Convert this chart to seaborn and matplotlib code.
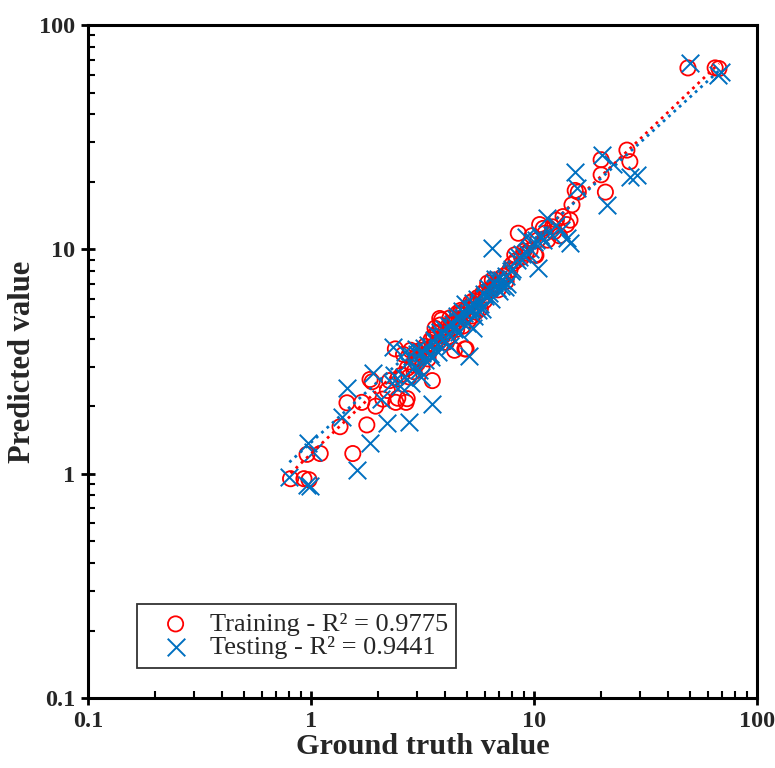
import numpy as np
import pandas as pd
import matplotlib
matplotlib.use("Agg")
import matplotlib.pyplot as plt
import seaborn as sns

# Training set: ground truth vs. predicted
train_true = [0.81, 0.93, 0.98, 0.96, 1.10, 1.35, 1.54, 1.78, 1.45, 1.69, 1.88, 1.95, 2.10, 2.20,
              2.25, 2.39, 2.40, 2.67, 2.45, 2.55, 2.60, 2.70, 2.80, 2.85, 2.95, 3.00, 3.10, 3.20,
              3.30, 3.40, 3.50, 3.45, 3.55, 3.60, 3.70, 3.75, 3.80, 3.90, 4.00, 4.05, 4.15, 4.20,
              4.30, 4.40, 4.45, 4.55, 4.60, 4.70, 4.80, 4.90, 4.95, 5.05, 5.20, 5.30, 5.45, 5.60,
              5.75, 5.90, 6.00, 6.20, 6.35, 6.50, 6.70, 6.90, 7.10, 7.30, 7.50, 7.80, 8.00, 8.20,
              8.50, 8.80, 9.20, 9.60, 10.1, 10.2, 10.6, 11.0, 11.5, 12.1, 12.6, 13.0, 14.0, 14.5,
              14.8, 15.3, 15.8, 20.0, 20.0, 20.9, 26.1, 26.9, 49.0, 64.9, 67.5, 1.84, 2.45, 2.70,
              3.78, 4.96, 2.75, 2.90, 3.05, 3.15, 3.25, 3.35, 3.60, 3.85, 4.10, 4.25, 4.50, 4.65,
              4.85, 5.10, 5.35, 5.50, 5.80, 6.10, 6.60, 7.00, 7.60, 8.30, 9.00, 9.80, 10.4, 11.2,
              12.3, 13.5]
train_pred = [0.95, 0.95, 0.94, 1.22, 1.23, 1.62, 1.23, 1.65, 2.07, 2.08, 2.57, 2.00, 2.15, 2.35,
              2.60, 3.60, 2.08, 2.08, 2.65, 2.75, 3.40, 2.95, 3.55, 3.05, 3.30, 3.10, 3.55, 3.35,
              3.60, 3.50, 2.60, 3.95, 4.10, 3.75, 4.25, 3.90, 4.60, 4.10, 4.30, 3.85, 4.60, 4.95,
              4.45, 3.55, 4.75, 5.20, 4.90, 5.35, 4.55, 3.60, 5.10, 5.50, 5.80, 5.05, 5.60, 6.10,
              5.45, 6.40, 5.90, 7.08, 6.60, 7.30, 7.00, 6.60, 7.45, 7.60, 7.20, 8.10, 8.60, 9.45,
              11.8, 9.20, 9.60, 9.90, 9.45, 9.40, 12.9, 12.4, 11.0, 12.6, 13.5, 11.5, 12.9, 13.5,
              15.8, 18.3, 18.0, 25.1, 21.5, 18.0, 27.7, 24.6, 64.4, 64.4, 64.0, 2.63, 2.17, 2.16,
              4.92, 3.60, 2.70, 2.85, 3.25, 3.00, 3.70, 3.25, 4.45, 4.85, 4.05, 4.70, 4.40, 5.15,
              5.30, 4.85, 5.90, 5.25, 6.00, 6.50, 6.80, 7.30, 7.80, 8.90, 9.80, 11.5, 11.0, 11.8,
              12.0, 14.0]

# Testing set: ground truth vs. predicted
test_true = [0.80, 0.96, 0.99, 0.97, 1.02, 1.38, 1.45, 1.61, 1.84, 2.20, 2.05, 2.30, 2.35, 2.50,
             2.60, 2.80, 2.85, 2.95, 3.05, 3.15, 3.25, 3.35, 3.45, 3.50, 3.55, 3.65, 3.70, 3.85,
             3.95, 4.10, 4.20, 4.35, 4.50, 4.60, 4.75, 4.90, 5.00, 5.10, 5.25, 5.40, 5.55, 5.70,
             5.85, 6.00, 6.20, 6.40, 6.50, 6.60, 6.80, 7.00, 7.20, 7.40, 7.60, 8.00, 8.40, 8.80,
             9.20, 9.60, 10.0, 10.4, 10.8, 11.4, 12.0, 14.0, 14.5, 15.3, 15.6, 20.2, 21.3, 22.5,
             26.9, 29.0, 50.0, 67.0, 69.0, 5.30, 1.90, 2.33, 2.75, 3.10, 4.45, 6.90, 2.65,
             2.70, 2.90, 3.00, 3.20, 3.40, 3.60, 3.80, 4.00, 4.15, 4.40, 4.70, 4.85, 5.15, 5.35,
             5.60, 5.95, 6.30, 6.70, 7.10, 7.50, 7.90, 8.60, 9.40, 10.2, 10.6, 11.0, 12.5, 13.2]
test_pred = [0.97, 0.89, 0.88, 1.37, 1.25, 1.79, 2.41, 1.04, 1.37, 1.69, 2.15, 2.55, 2.75, 2.45,
             2.70, 2.55, 3.35, 3.60, 2.90, 3.45, 3.20, 3.75, 3.30, 2.05, 3.95, 4.20, 3.50, 3.95,
             4.40, 4.20, 3.70, 4.65, 5.05, 4.30, 5.30, 5.70, 4.70, 3.35, 5.40, 5.05, 6.00, 5.70,
             5.40, 6.20, 6.70, 6.00, 10.1, 7.10, 6.70, 6.50, 7.30, 6.80, 7.00, 8.20, 9.00, 9.50,
             11.3, 10.0, 10.8, 8.30, 11.3, 13.8, 11.6, 11.2, 10.7, 22.1, 18.7, 26.4, 15.8, 24.0,
             21.0, 21.5, 68.0, 60.0, 62.0, 4.45, 2.80, 3.67, 1.70, 2.70, 4.90, 7.40, 3.50,
             3.10, 3.00, 3.40, 3.65, 3.40, 3.85, 4.30, 3.90, 4.55, 4.40, 4.80, 5.20, 5.45, 5.75,
             5.35, 6.30, 6.40, 7.40, 6.90, 7.60, 8.00, 9.20, 9.50, 11.0, 11.6, 11.0, 12.8, 12.2]

# Power-law trendlines y = a * x^b
train_fit = (1.227, 0.951)
test_fit = (1.377, 0.906)

train_label = "Training - R² = 0.9775"
test_label = "Testing - R² = 0.9441"

red = "#FF0000"
blue = "#0070C0"

sns.set_theme(style="white")
plt.rcParams["font.family"] = ["Liberation Serif", "DejaVu Serif"]

fig = plt.figure(figsize=(7.75, 7.68), dpi=100)
ax = fig.add_axes([0.1135, 0.0911, 0.8633, 0.8763])

df_train = pd.DataFrame({"truth": train_true, "pred": train_pred})
df_test = pd.DataFrame({"truth": test_true, "pred": test_pred})

sns.scatterplot(data=df_train, x="truth", y="pred", ax=ax, marker="o", s=120,
                fc="none", ec=red, linewidth=1.3, label=train_label, zorder=3)
sns.scatterplot(data=df_test, x="truth", y="pred", ax=ax, marker="x", s=160,
                color=blue, linewidth=1.4, label=test_label, zorder=4)

for df, (a, b), c in [(df_train, train_fit, red), (df_test, test_fit, blue)]:
    xs = np.geomspace(df["truth"].min(), df["truth"].max(), 200)
    ax.plot(xs, a * xs ** b, linestyle=(0, (1, 1.6)), color=c, linewidth=2.0, zorder=5)

ax.set_xscale("log")
ax.set_yscale("log")
ax.set_xlim(0.1, 100)
ax.set_ylim(0.1, 100)
ticks = [0.1, 1, 10, 100]
tick_labels = ["0.1", "1", "10", "100"]
ax.set_xticks(ticks)
ax.set_xticklabels(tick_labels)
ax.set_yticks(ticks)
ax.set_yticklabels(tick_labels)

for lab in ax.get_xticklabels() + ax.get_yticklabels():
    lab.set_fontweight("bold")
    lab.set_fontsize(17.5)

ax.tick_params(which="major", direction="inout", length=10, width=2, color="black",
               bottom=True, left=True, top=False, right=False, pad=4)
ax.tick_params(which="minor", direction="in", length=5, width=1.5, color="black",
               bottom=True, left=True, top=False, right=False)

for sp in ax.spines.values():
    sp.set_color("black")
    sp.set_linewidth(2.2)

ax.set_xlabel("Ground truth value", fontsize=21.8, fontweight="bold", labelpad=1)
ax.set_ylabel("Predicted value", fontsize=22, fontweight="bold", labelpad=2)
ax.grid(False)

leg = ax.legend(loc="lower left", bbox_to_anchor=(0.073, 0.045), borderaxespad=0,
                fontsize=19, frameon=True, fancybox=False, handletextpad=0.15,
                borderpad=0.32, labelspacing=0.0, handlelength=2.3)
leg.get_frame().set_edgecolor("black")
leg.get_frame().set_linewidth(1.3)

fig.savefig("out.png", dpi=100)
